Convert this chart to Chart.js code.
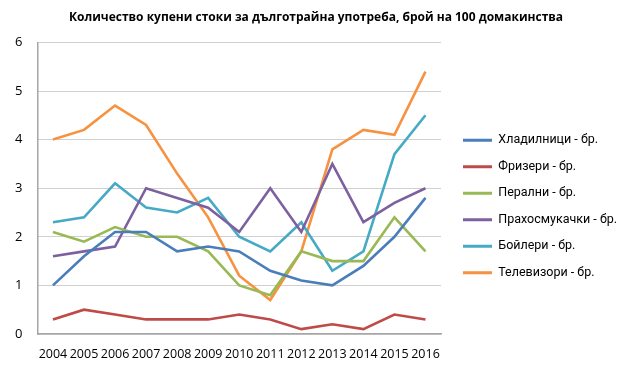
<!DOCTYPE html>
<html>
<head>
<meta charset="utf-8">
<script src="https://cdn.jsdelivr.net/npm/chart.js@4.4.0/dist/chart.umd.min.js"></script>
<style>
  body { margin: 0; background: #fff; }
  #wrap { width: 630px; height: 376px; position: relative; }
</style>
</head>
<body>
<div id="wrap"><canvas id="myChart"></canvas></div>
<script>
var years = ["2004", "2005", "2006", "2007", "2008", "2009", "2010", "2011", "2012", "2013", "2014", "2015", "2016"];
var fridges = [1.0, 1.6, 2.1, 2.1, 1.7, 1.8, 1.7, 1.3, 1.1, 1.0, 1.4, 2.0, 2.8];
var freezers = [0.3, 0.5, 0.4, 0.3, 0.3, 0.3, 0.4, 0.3, 0.1, 0.2, 0.1, 0.4, 0.3];
var washers = [2.1, 1.9, 2.2, 2.0, 2.0, 1.7, 1.0, 0.8, 1.7, 1.5, 1.5, 2.4, 1.7];
var vacuums = [1.6, 1.7, 1.8, 3.0, 2.8, 2.6, 2.1, 3.0, 2.1, 3.5, 2.3, 2.7, 3.0];
var boilers = [2.3, 2.4, 3.1, 2.6, 2.5, 2.8, 2.0, 1.7, 2.3, 1.3, 1.7, 3.7, 4.5];
var tvs = [4.0, 4.2, 4.7, 4.3, 3.3, 2.4, 1.2, 0.7, 1.7, 3.8, 4.2, 4.1, 5.4];
var yTicks = [0, 1, 2, 3, 4, 5, 6];

var font = "'Open Sans', sans-serif";

function line(label, data, color) {
    return {
        label: label,
        data: data,
        borderColor: color,
        backgroundColor: color,
        borderWidth: 2.6,
        pointRadius: 0,
        tension: 0,
        fill: false
    };
}

// legend gets capped to a quarter of the width, so nudge it (and the title) after layout
var nudge = {
    id: "nudge",
    afterLayout: function(c) {
        var lg = c.legend;
        lg.left += 8;
        lg.right = c.width;
        lg.width = lg.right - lg.left;
        lg.top += 17;
        lg.bottom += 17;
        c.titleBlock.left += 22;
        c.titleBlock.right += 22;
    }
};

var ctx = document.getElementById("myChart").getContext("2d");
var chart = new Chart(ctx, {
    type: "line",
    data: {
        labels: years,
        datasets: [
            line("Хладилници - бр.", fridges, "#4A7EBB"),
            line("Фризери - бр.", freezers, "#BE4B48"),
            line("Перални - бр.", washers, "#98B954"),
            line("Прахосмукачки - бр.", vacuums, "#7D60A0"),
            line("Бойлери - бр.", boilers, "#46AAC5"),
            line("Телевизори - бр.", tvs, "#F69240")
        ]
    },
    options: {
        responsive: true,
        maintainAspectRatio: false,
        animation: false,
        layout: { padding: { left: 0, right: 42, top: 4, bottom: 1 } },
        plugins: {
            title: {
                display: true,
                text: "Количество купени стоки за дълготрайна употреба, брой на 100 домакинства",
                color: "#000",
                font: { family: font, size: 12, weight: "bold" },
                padding: { top: 6, bottom: 18 }
            },
            legend: {
                position: "right",
                labels: {
                    color: "#000",
                    font: { family: "Roboto, sans-serif", size: 12.5 },
                    boxWidth: 29,
                    boxHeight: 3,
                    padding: 14,
                    generateLabels: function(c) {
                        return Chart.defaults.plugins.legend.labels.generateLabels(c).map(function(it) {
                            it.lineWidth = 0;
                            return it;
                        });
                    }
                }
            },
            tooltip: { enabled: false }
        },
        scales: {
            x: {
                offset: true,
                grid: { display: true, color: "transparent", drawTicks: false },
                border: { display: true, color: "#a6a6a6", width: 1.5 },
                ticks: {
                    color: "#000",
                    font: { family: font, size: 12.5 },
                    autoSkip: false,
                    maxRotation: 0,
                    padding: 13
                }
            },
            y: {
                min: 0,
                max: 6,
                afterBuildTicks: function(axis) {
                    axis.ticks = yTicks.map(function(v) { return { value: v }; });
                },
                grid: { color: "#a0a0a0", drawTicks: false },
                border: { display: true, color: "#a6a6a6", width: 1.5, dash: [1, 1] },
                ticks: {
                    color: "#000",
                    font: { family: font, size: 13 },
                    padding: 15
                }
            }
        }
    },
    plugins: [nudge]
});
</script>
</body>
</html>
